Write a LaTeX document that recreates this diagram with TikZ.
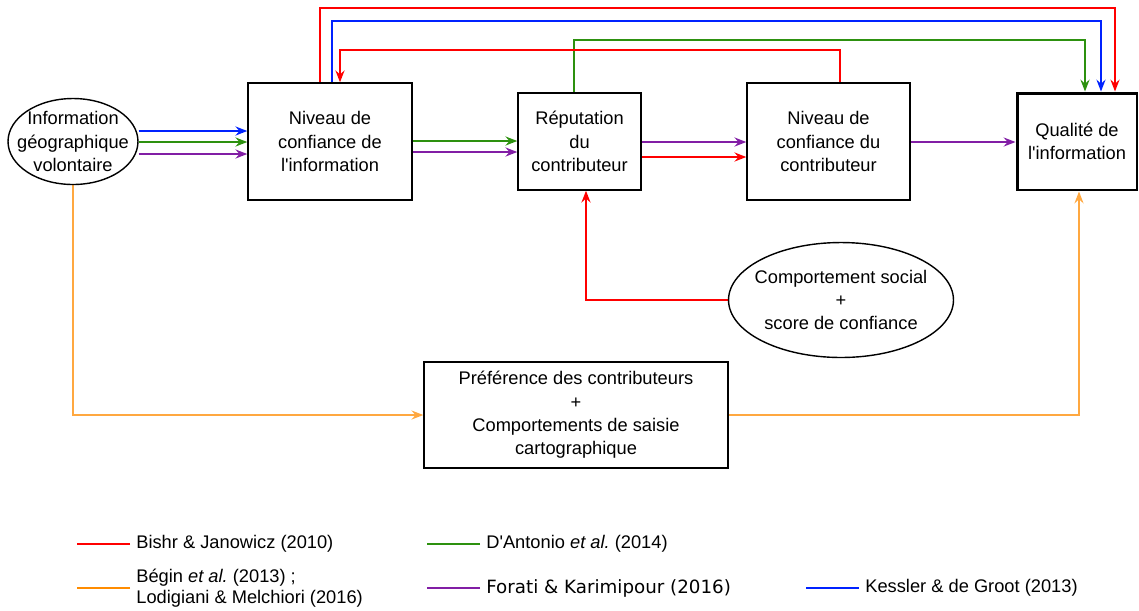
\documentclass[tikz,border=0pt]{standalone}
\usepackage{fontspec}
\setmainfont{Liberation Sans}[Ligatures=TeXOff]
\newfontfamily\dejavu{DejaVu Sans}
\usetikzlibrary{arrows.meta,shapes.geometric,backgrounds}

\definecolor{cred}{RGB}{255,0,0}
\definecolor{cblue}{RGB}{0,34,255}
\definecolor{cgreen}{RGB}{45,145,15}
\definecolor{cpurple}{RGB}{130,30,165}
\definecolor{corange}{RGB}{255,168,64}
\definecolor{clegor}{RGB}{255,140,0}

\newcommand\mainsz{\fontsize{10.4}{13.3}\selectfont}
\newcommand\etal{{\itshape et al.}\ }
\frenchspacing

\begin{document}
\begin{tikzpicture}[x=0.02cm,y=-0.02cm,
  box/.style={draw, rectangle, line width=0.8pt, inner sep=0pt, fill=white,
              align=center, font=\mainsz},
  oval/.style={draw, ellipse, line width=0.8pt, inner sep=0pt, fill=white},
  txt/.style={align=center, inner sep=0pt, font=\mainsz},
  link/.style={line width=1pt, -{Stealth[length=6.8pt,width=5.2pt,inset=2.4pt]}},
  legline/.style={line width=1.3pt},
  legtxt/.style={anchor=west, inner sep=0pt, align=left, font=\mainsz}]
\useasboundingbox (0,0) rectangle (1139,610);

% main blocks
\node[oval, minimum width=2.6cm, minimum height=1.72cm] (e1) at (73,141.5) {};
\node[txt] (e1t) at (e1) {Information\\géographique\\volontaire};
\node[box, minimum width=3.28cm, minimum height=2.34cm] (b1) at (330,141.5)
  {Niveau de\\confiance de\\l'information};
\node[box, minimum width=2.46cm, minimum height=1.94cm] (b2) at (579.5,141.5)
  {Réputation\\du\\contributeur};
\node[box, minimum width=3.26cm, minimum height=2.34cm] (b3) at (828.5,141.5)
  {Niveau de\\confiance du\\contributeur};
\node[box, line width=1.7pt, minimum width=2.4cm, minimum height=1.94cm] (b4) at (1077,141.5)
  {Qualité de\\l'information};
\node[oval, minimum width=4.5cm, minimum height=2.3cm] (e2) at (841,300) {};
\node[txt] (e2t) at (e2) {Comportement social\\+\\score de confiance};
\node[box, minimum width=6.08cm, minimum height=2.12cm] (b5) at (576,415)
  {Préférence des contributeurs\\+\\Comportements de saisie\\cartographique};

% rail heights and row heights of the connectors
\coordinate (railA) at (0,8);
\coordinate (railB) at (0,21);
\coordinate (railC) at (0,40);
\coordinate (railD) at (0,50);
\coordinate (h131) at (0,131);
\coordinate (h141) at (0,141);
\coordinate (h142) at (0,142);
\coordinate (h152) at (0,152);
\coordinate (h154) at (0,154);
\coordinate (h157) at (0,157);

% ports on the block borders
\coordinate (ir) at ([xshift=-0.2cm]b1.north);
\coordinate (ib) at ([xshift=0.04cm]b1.north);
\coordinate (it) at ([xshift=0.2cm]b1.north);
\coordinate (rg) at ([xshift=-0.11cm]b2.north);
\coordinate (rb) at ([xshift=0.13cm]b2.south);
\coordinate (cr) at ([xshift=0.23cm]b3.north);
\coordinate (qg) at ([xshift=0.16cm]b4.north);
\coordinate (qb) at ([xshift=0.48cm]b4.north);
\coordinate (qr) at ([xshift=0.76cm]b4.north);
\coordinate (qo) at ([xshift=0.04cm]b4.south);

\begin{scope}[on background layer]
  % top rails
  \draw[link, cred]  (ir) -- (ir |- railA) -- (qr |- railA) -- (qr);
  \draw[link, cblue] (ib) -- (ib |- railB) -- (qb |- railB) -- (qb);
  \draw[link, cgreen] (rg) -- (rg |- railC) -- (qg |- railC) -- (qg);
  \draw[link, cred]  (cr) -- (cr |- railD) -- (it |- railD) -- (it);

  % volunteered information -> information confidence
  \draw[link, cblue]   (e1.east |- h131) -- (b1.west |- h131);
  \draw[link, cgreen]  (e1.east |- h142) -- (b1.west |- h142);
  \draw[link, cpurple] (e1.east |- h154) -- (b1.west |- h154);

  % information confidence -> reputation
  \draw[link, cgreen]  (b1.east |- h141) -- (b2.west |- h141);
  \draw[link, cpurple] (b1.east |- h152) -- (b2.west |- h152);

  % reputation -> contributor confidence
  \draw[link, cpurple] (b2.east |- h142) -- (b3.west |- h142);
  \draw[link, cred]    (b2.east |- h157) -- (b3.west |- h157);

  % contributor confidence -> quality
  \draw[link, cpurple] (b3.east |- h142) -- (b4.west |- h142);

  % social behaviour -> reputation
  \draw[link, cred] (e2.west) -| (rb);

  % preferences path
  \draw[link, corange, line width=0.8pt] (e1.south) |- (b5.west);
  \draw[link, corange, line width=0.8pt] (b5.east) -| (qo);
\end{scope}

% legend
\node[legtxt] (l1) at (136,544) {Bishr \& Janowicz (2010)};
\draw[legline, cred] ([xshift=-0.12cm]l1.west) -- ++(-53,0);
\node[legtxt, font=\fontsize{10.4}{12}\selectfont] (l2) at (136,588)
  {Bégin \etal(2013) ;\\Lodigiani \& Melchiori (2016)};
\draw[legline, clegor] ([xshift=-0.12cm]l2.west) -- ++(-53,0);
\node[legtxt] (l3) at (486,544) {D'Antonio \etal(2014)};
\draw[legline, cgreen] ([xshift=-0.12cm]l3.west) -- ++(-53,0);
\node[legtxt, font=\dejavu\fontsize{10.4}{13.3}\selectfont] (l4) at (486,588)
  {Forati \& Karimipour (2016)};
\draw[legline, cpurple] ([xshift=-0.12cm]l4.west) -- ++(-53,0);
\node[legtxt] (l5) at (865,588) {Kessler \& de Groot (2013)};
\draw[legline, cblue] ([xshift=-0.12cm]l5.west) -- ++(-53,0);
\end{tikzpicture}
\end{document}
